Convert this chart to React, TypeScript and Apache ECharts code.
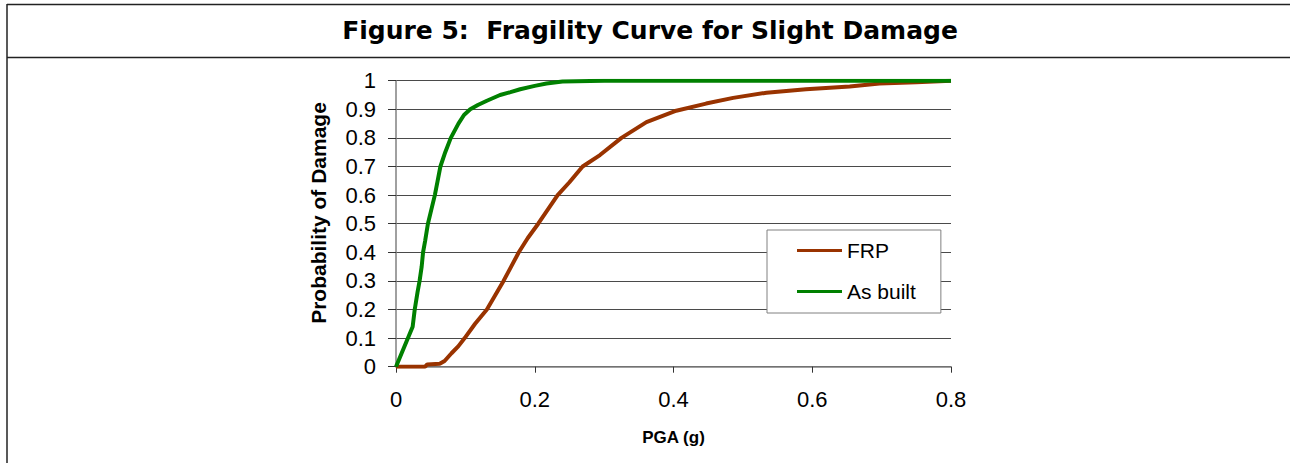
import React, { useEffect, useRef } from "react";
import * as echarts from "echarts";

const titleText = "Figure 5:  Fragility Curve for Slight Damage";
const xAxisName = "PGA (g)";
const yAxisName = "Probability of Damage";
const seriesNames = ["FRP", "As built"];
const seriesColors = ["#993300", "#008000"];

// FRP curve (PGA g, probability)
const frpX = [0, 0.042, 0.045, 0.063, 0.07, 0.08, 0.09, 0.099, 0.114, 0.131, 0.143, 0.155, 0.166, 0.177, 0.19, 0.205, 0.219, 0.233, 0.25, 0.269, 0.294, 0.325, 0.361, 0.404, 0.447, 0.486, 0.534, 0.591, 0.654, 0.697, 0.75, 0.8];
const frpY = [0, 0, 0.008, 0.01, 0.02, 0.047, 0.072, 0.1, 0.15, 0.2, 0.25, 0.3, 0.35, 0.4, 0.45, 0.5, 0.55, 0.6, 0.645, 0.7, 0.74, 0.8, 0.855, 0.895, 0.92, 0.94, 0.958, 0.97, 0.98, 0.99, 0.995, 1];

// As built curve
const asBuiltX = [0, 0.012, 0.024, 0.027, 0.031, 0.034, 0.037, 0.039, 0.042, 0.046, 0.051, 0.056, 0.06, 0.064, 0.071, 0.079, 0.09, 0.098, 0.107, 0.118, 0.131, 0.15, 0.165, 0.179, 0.2, 0.217, 0.24, 0.3, 0.8];
const asBuiltY = [0, 0.07, 0.14, 0.2, 0.26, 0.3, 0.35, 0.4, 0.44, 0.5, 0.55, 0.6, 0.65, 0.7, 0.75, 0.8, 0.85, 0.88, 0.9, 0.915, 0.93, 0.95, 0.96, 0.97, 0.982, 0.99, 0.997, 1, 1];

const pairs = (xs: number[], ys: number[]) => xs.map((x, i) => [x, ys[i]]);

export default function App() {
  const ref = useRef<HTMLDivElement>(null);
  useEffect(() => {
    document.body.style.margin = "0";
    const chart = echarts.init(ref.current!, null, { renderer: "svg" });
    const labelFont = "'Liberation Sans', Arial, sans-serif";
    const fmt = (v: number) => (v === 0 ? "0" : String(Math.round(v * 10) / 10));
    chart.setOption({
      animation: false,
      backgroundColor: "#ffffff",
      graphic: [
        { type: "line", shape: { x1: 7, y1: 4.5, x2: 1290, y2: 4.5 }, style: { stroke: "#222", lineWidth: 1.5 } },
        { type: "line", shape: { x1: 7, y1: 57.5, x2: 1290, y2: 57.5 }, style: { stroke: "#222", lineWidth: 1.5 } },
        { type: "line", shape: { x1: 7, y1: 4, x2: 7, y2: 463 }, style: { stroke: "#222", lineWidth: 1.5 } },
        {
          type: "text",
          x: 650,
          y: 30,
          style: {
            text: titleText,
            font: "bold 25px 'DejaVu Sans', Verdana, sans-serif",
            fill: "#000",
            textAlign: "center",
            textVerticalAlign: "middle",
          },
        },
        {
          type: "text",
          x: 318,
          y: 213,
          rotation: Math.PI / 2,
          style: {
            text: yAxisName,
            font: `bold 21px ${labelFont}`,
            fill: "#000",
            textAlign: "center",
            textVerticalAlign: "middle",
          },
        },
      ],
      grid: { left: 396, top: 80.7, right: 339, bottom: 96.3, containLabel: false },
      legend: {
        orient: "vertical",
        left: 767,
        top: 230,
        padding: [10, 25, 11, 30],
        itemGap: 20,
        itemWidth: 45,
        itemHeight: 3,
        icon: "rect",
        borderColor: "#808080",
        borderWidth: 1,
        backgroundColor: "#ffffff",
        textStyle: { fontFamily: labelFont, fontSize: 21, color: "#000" },
        data: seriesNames,
      },
      xAxis: {
        type: "value",
        min: 0,
        max: 0.8,
        interval: 0.2,
        name: xAxisName,
        nameLocation: "middle",
        nameGap: 62,
        nameTextStyle: { fontFamily: labelFont, fontSize: 17, fontWeight: "bold", color: "#000" },
        axisLine: { show: true, lineStyle: { color: "#808080", width: 1.5 } },
        axisTick: { show: true, length: 6, lineStyle: { color: "#333" } },
        axisLabel: { margin: 22, fontFamily: labelFont, fontSize: 22, color: "#000", formatter: fmt },
        splitLine: { show: false },
      },
      yAxis: {
        type: "value",
        min: 0,
        max: 1,
        interval: 0.1,
        axisLine: { show: true, lineStyle: { color: "#808080", width: 1.5 } },
        axisTick: { show: true, length: 8, lineStyle: { color: "#333" } },
        axisLabel: { margin: 20, fontFamily: labelFont, fontSize: 22, color: "#000", formatter: fmt },
        splitLine: { show: true, lineStyle: { color: "#4a4a4a", width: 1 } },
      },
      series: [
        {
          name: seriesNames[0],
          type: "line",
          data: pairs(frpX, frpY),
          showSymbol: false,
          symbol: "none",
          lineStyle: { color: seriesColors[0], width: 4 },
          itemStyle: { color: seriesColors[0] },
          z: 3,
        },
        {
          name: seriesNames[1],
          type: "line",
          data: pairs(asBuiltX, asBuiltY),
          showSymbol: false,
          symbol: "none",
          lineStyle: { color: seriesColors[1], width: 4 },
          itemStyle: { color: seriesColors[1] },
          z: 4,
        },
      ],
    });
    return () => chart.dispose();
  }, []);
  return <div ref={ref} style={{ width: 1290, height: 463 }} />;
}
